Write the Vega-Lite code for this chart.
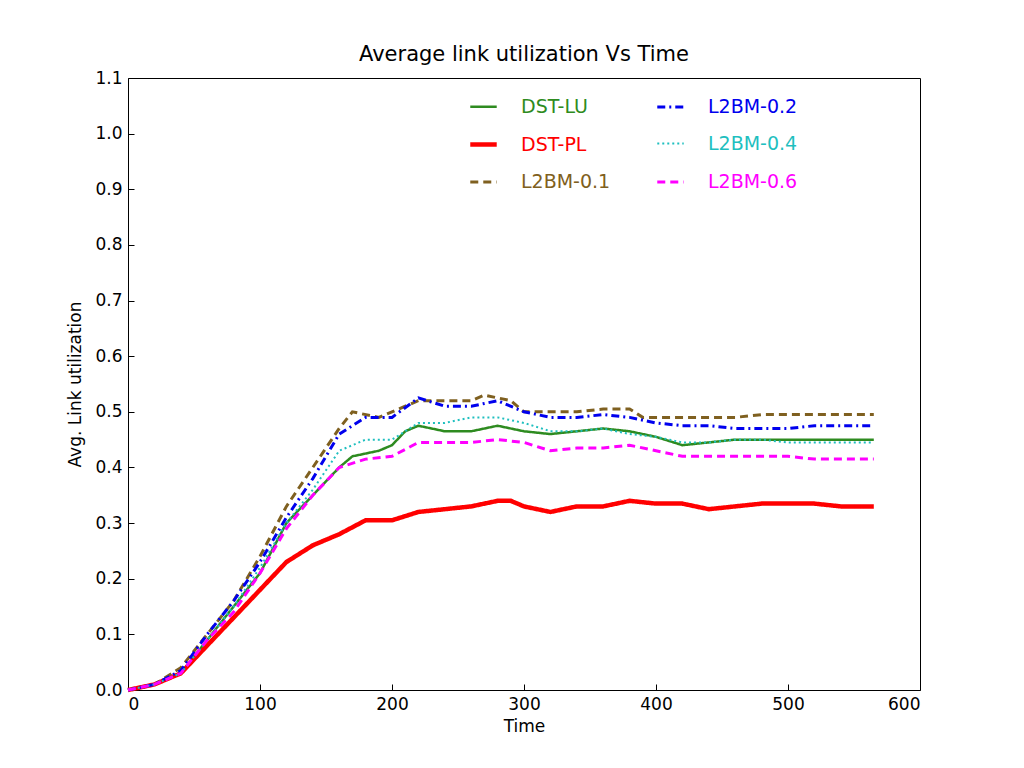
{
  "$schema": "https://vega.github.io/schema/vega-lite/v6.json",
  "width": 792,
  "height": 612,
  "autosize": "none",
  "padding": {"left": 128, "top": 78, "right": 104, "bottom": 78},
  "background": "white",
  "config": {
    "font": "DejaVu Sans",
    "view": {"stroke": "black", "strokeWidth": 1},
    "axis": {"grid": false, "domain": false, "tickColor": "black", "tickSize": -6, "labelColor": "black", "labelFontSize": 17, "titleFontSize": 17, "titleFontWeight": "normal", "labelPadding": 12, "titleColor": "black"}
  },
  "title": {"text": "Average link utilization Vs Time", "fontSize": 21, "fontWeight": "normal", "offset": 4},
  "data": {"values": [
    {"t":0,"s":"DST-LU","v":0},{"t":20,"s":"DST-LU","v":0.01},{"t":40,"s":"DST-LU","v":0.03},{"t":60,"s":"DST-LU","v":0.09},{"t":80,"s":"DST-LU","v":0.15},{"t":100,"s":"DST-LU","v":0.21},{"t":120,"s":"DST-LU","v":0.3},{"t":140,"s":"DST-LU","v":0.35},{"t":160,"s":"DST-LU","v":0.4},{"t":170,"s":"DST-LU","v":0.42},{"t":190,"s":"DST-LU","v":0.43},{"t":200,"s":"DST-LU","v":0.44},{"t":210,"s":"DST-LU","v":0.465},{"t":220,"s":"DST-LU","v":0.475},{"t":240,"s":"DST-LU","v":0.465},{"t":260,"s":"DST-LU","v":0.465},{"t":280,"s":"DST-LU","v":0.475},{"t":300,"s":"DST-LU","v":0.465},{"t":320,"s":"DST-LU","v":0.46},{"t":340,"s":"DST-LU","v":0.465},{"t":360,"s":"DST-LU","v":0.47},{"t":380,"s":"DST-LU","v":0.465},{"t":400,"s":"DST-LU","v":0.455},{"t":420,"s":"DST-LU","v":0.44},{"t":440,"s":"DST-LU","v":0.445},{"t":460,"s":"DST-LU","v":0.45},{"t":480,"s":"DST-LU","v":0.45},{"t":500,"s":"DST-LU","v":0.45},{"t":520,"s":"DST-LU","v":0.45},{"t":540,"s":"DST-LU","v":0.45},{"t":565,"s":"DST-LU","v":0.45},
    {"t":0,"s":"DST-PL","v":0},{"t":20,"s":"DST-PL","v":0.01},{"t":40,"s":"DST-PL","v":0.03},{"t":60,"s":"DST-PL","v":0.08},{"t":80,"s":"DST-PL","v":0.13},{"t":100,"s":"DST-PL","v":0.18},{"t":120,"s":"DST-PL","v":0.23},{"t":140,"s":"DST-PL","v":0.26},{"t":160,"s":"DST-PL","v":0.28},{"t":180,"s":"DST-PL","v":0.305},{"t":200,"s":"DST-PL","v":0.305},{"t":220,"s":"DST-PL","v":0.32},{"t":240,"s":"DST-PL","v":0.325},{"t":260,"s":"DST-PL","v":0.33},{"t":280,"s":"DST-PL","v":0.34},{"t":290,"s":"DST-PL","v":0.34},{"t":300,"s":"DST-PL","v":0.33},{"t":320,"s":"DST-PL","v":0.32},{"t":340,"s":"DST-PL","v":0.33},{"t":360,"s":"DST-PL","v":0.33},{"t":380,"s":"DST-PL","v":0.34},{"t":400,"s":"DST-PL","v":0.335},{"t":420,"s":"DST-PL","v":0.335},{"t":440,"s":"DST-PL","v":0.325},{"t":460,"s":"DST-PL","v":0.33},{"t":480,"s":"DST-PL","v":0.335},{"t":500,"s":"DST-PL","v":0.335},{"t":520,"s":"DST-PL","v":0.335},{"t":540,"s":"DST-PL","v":0.33},{"t":565,"s":"DST-PL","v":0.33},
    {"t":0,"s":"L2BM-0.1","v":0},{"t":20,"s":"L2BM-0.1","v":0.01},{"t":40,"s":"L2BM-0.1","v":0.04},{"t":60,"s":"L2BM-0.1","v":0.1},{"t":80,"s":"L2BM-0.1","v":0.16},{"t":100,"s":"L2BM-0.1","v":0.24},{"t":120,"s":"L2BM-0.1","v":0.33},{"t":140,"s":"L2BM-0.1","v":0.4},{"t":160,"s":"L2BM-0.1","v":0.47},{"t":170,"s":"L2BM-0.1","v":0.5},{"t":190,"s":"L2BM-0.1","v":0.49},{"t":200,"s":"L2BM-0.1","v":0.5},{"t":220,"s":"L2BM-0.1","v":0.52},{"t":240,"s":"L2BM-0.1","v":0.52},{"t":260,"s":"L2BM-0.1","v":0.52},{"t":270,"s":"L2BM-0.1","v":0.53},{"t":290,"s":"L2BM-0.1","v":0.52},{"t":300,"s":"L2BM-0.1","v":0.5},{"t":320,"s":"L2BM-0.1","v":0.5},{"t":340,"s":"L2BM-0.1","v":0.5},{"t":360,"s":"L2BM-0.1","v":0.505},{"t":380,"s":"L2BM-0.1","v":0.505},{"t":390,"s":"L2BM-0.1","v":0.49},{"t":420,"s":"L2BM-0.1","v":0.49},{"t":440,"s":"L2BM-0.1","v":0.49},{"t":460,"s":"L2BM-0.1","v":0.49},{"t":480,"s":"L2BM-0.1","v":0.495},{"t":500,"s":"L2BM-0.1","v":0.495},{"t":520,"s":"L2BM-0.1","v":0.495},{"t":540,"s":"L2BM-0.1","v":0.495},{"t":565,"s":"L2BM-0.1","v":0.495},
    {"t":0,"s":"L2BM-0.2","v":0},{"t":20,"s":"L2BM-0.2","v":0.01},{"t":40,"s":"L2BM-0.2","v":0.035},{"t":60,"s":"L2BM-0.2","v":0.1},{"t":80,"s":"L2BM-0.2","v":0.16},{"t":100,"s":"L2BM-0.2","v":0.23},{"t":120,"s":"L2BM-0.2","v":0.31},{"t":140,"s":"L2BM-0.2","v":0.38},{"t":160,"s":"L2BM-0.2","v":0.46},{"t":180,"s":"L2BM-0.2","v":0.49},{"t":200,"s":"L2BM-0.2","v":0.49},{"t":220,"s":"L2BM-0.2","v":0.525},{"t":240,"s":"L2BM-0.2","v":0.51},{"t":260,"s":"L2BM-0.2","v":0.51},{"t":280,"s":"L2BM-0.2","v":0.52},{"t":300,"s":"L2BM-0.2","v":0.5},{"t":320,"s":"L2BM-0.2","v":0.49},{"t":340,"s":"L2BM-0.2","v":0.49},{"t":360,"s":"L2BM-0.2","v":0.495},{"t":380,"s":"L2BM-0.2","v":0.49},{"t":400,"s":"L2BM-0.2","v":0.48},{"t":420,"s":"L2BM-0.2","v":0.475},{"t":440,"s":"L2BM-0.2","v":0.475},{"t":460,"s":"L2BM-0.2","v":0.47},{"t":480,"s":"L2BM-0.2","v":0.47},{"t":500,"s":"L2BM-0.2","v":0.47},{"t":520,"s":"L2BM-0.2","v":0.475},{"t":540,"s":"L2BM-0.2","v":0.475},{"t":565,"s":"L2BM-0.2","v":0.475},
    {"t":0,"s":"L2BM-0.4","v":0},{"t":20,"s":"L2BM-0.4","v":0.01},{"t":40,"s":"L2BM-0.4","v":0.03},{"t":60,"s":"L2BM-0.4","v":0.09},{"t":80,"s":"L2BM-0.4","v":0.15},{"t":100,"s":"L2BM-0.4","v":0.22},{"t":120,"s":"L2BM-0.4","v":0.3},{"t":140,"s":"L2BM-0.4","v":0.36},{"t":160,"s":"L2BM-0.4","v":0.43},{"t":180,"s":"L2BM-0.4","v":0.45},{"t":200,"s":"L2BM-0.4","v":0.45},{"t":220,"s":"L2BM-0.4","v":0.48},{"t":240,"s":"L2BM-0.4","v":0.48},{"t":260,"s":"L2BM-0.4","v":0.49},{"t":280,"s":"L2BM-0.4","v":0.49},{"t":300,"s":"L2BM-0.4","v":0.48},{"t":320,"s":"L2BM-0.4","v":0.465},{"t":340,"s":"L2BM-0.4","v":0.465},{"t":360,"s":"L2BM-0.4","v":0.47},{"t":380,"s":"L2BM-0.4","v":0.46},{"t":400,"s":"L2BM-0.4","v":0.455},{"t":420,"s":"L2BM-0.4","v":0.445},{"t":440,"s":"L2BM-0.4","v":0.445},{"t":460,"s":"L2BM-0.4","v":0.45},{"t":480,"s":"L2BM-0.4","v":0.45},{"t":500,"s":"L2BM-0.4","v":0.445},{"t":520,"s":"L2BM-0.4","v":0.445},{"t":540,"s":"L2BM-0.4","v":0.445},{"t":565,"s":"L2BM-0.4","v":0.445},
    {"t":0,"s":"L2BM-0.6","v":0},{"t":20,"s":"L2BM-0.6","v":0.01},{"t":40,"s":"L2BM-0.6","v":0.03},{"t":60,"s":"L2BM-0.6","v":0.09},{"t":80,"s":"L2BM-0.6","v":0.14},{"t":100,"s":"L2BM-0.6","v":0.21},{"t":120,"s":"L2BM-0.6","v":0.29},{"t":140,"s":"L2BM-0.6","v":0.35},{"t":160,"s":"L2BM-0.6","v":0.4},{"t":180,"s":"L2BM-0.6","v":0.415},{"t":200,"s":"L2BM-0.6","v":0.42},{"t":220,"s":"L2BM-0.6","v":0.445},{"t":240,"s":"L2BM-0.6","v":0.445},{"t":260,"s":"L2BM-0.6","v":0.445},{"t":280,"s":"L2BM-0.6","v":0.45},{"t":300,"s":"L2BM-0.6","v":0.445},{"t":320,"s":"L2BM-0.6","v":0.43},{"t":340,"s":"L2BM-0.6","v":0.435},{"t":360,"s":"L2BM-0.6","v":0.435},{"t":380,"s":"L2BM-0.6","v":0.44},{"t":400,"s":"L2BM-0.6","v":0.43},{"t":420,"s":"L2BM-0.6","v":0.42},{"t":440,"s":"L2BM-0.6","v":0.42},{"t":460,"s":"L2BM-0.6","v":0.42},{"t":480,"s":"L2BM-0.6","v":0.42},{"t":500,"s":"L2BM-0.6","v":0.42},{"t":520,"s":"L2BM-0.6","v":0.415},{"t":540,"s":"L2BM-0.6","v":0.415},{"t":565,"s":"L2BM-0.6","v":0.415}
  ]},
  "mark": {"type": "line"},
  "encoding": {
    "x": {"field": "t", "type": "quantitative", "title": "Time", "scale": {"domain": [0, 600], "nice": false}, "axis": {"values": [0,100,200,300,400,500,600], "titlePadding": 6}},
    "y": {"field": "v", "type": "quantitative", "title": "Avg. Link utilization", "scale": {"domain": [0, 1.1], "nice": false}, "axis": {"values": [0,0.1,0.2,0.3,0.4,0.5,0.6,0.7,0.8,0.9,1.0,1.1], "format": ".1f", "titlePadding": 10}},
    "color": {
      "field": "s", "type": "nominal",
      "scale": {"domain": ["DST-LU","DST-PL","L2BM-0.1","L2BM-0.2","L2BM-0.4","L2BM-0.6"], "range": ["#2e8b20","#ff0000","#7f6020","#0000ee","#1fbfbf","#ff00ff"]},
      "legend": {
        "title": null, "orient": "none", "legendX": 340, "legendY": 14, "columns": 2, "columnPadding": 40, "rowPadding": 12,
        "symbolType": "stroke", "symbolSize": 700, "symbolStrokeWidth": 3, "labelFontSize": 19, "labelOffset": 22,
        "encode": {"labels": {"update": {"fill": {"scale": "color", "field": "value"}}}}
      }
    },
    "strokeDash": {
      "field": "s", "type": "nominal",
      "scale": {"domain": ["DST-LU","DST-PL","L2BM-0.1","L2BM-0.2","L2BM-0.4","L2BM-0.6"], "range": [[1,0],[1,0],[8,5],[8,4,2,4],[2,3],[8,5]]},
      "legend": null
    },
    "strokeWidth": {
      "field": "s", "type": "nominal",
      "scale": {"type": "ordinal", "domain": ["DST-LU","DST-PL","L2BM-0.1","L2BM-0.2","L2BM-0.4","L2BM-0.6"], "range": [2.5,4.5,3,3,2,3]},
      "legend": null
    }
  }
}
